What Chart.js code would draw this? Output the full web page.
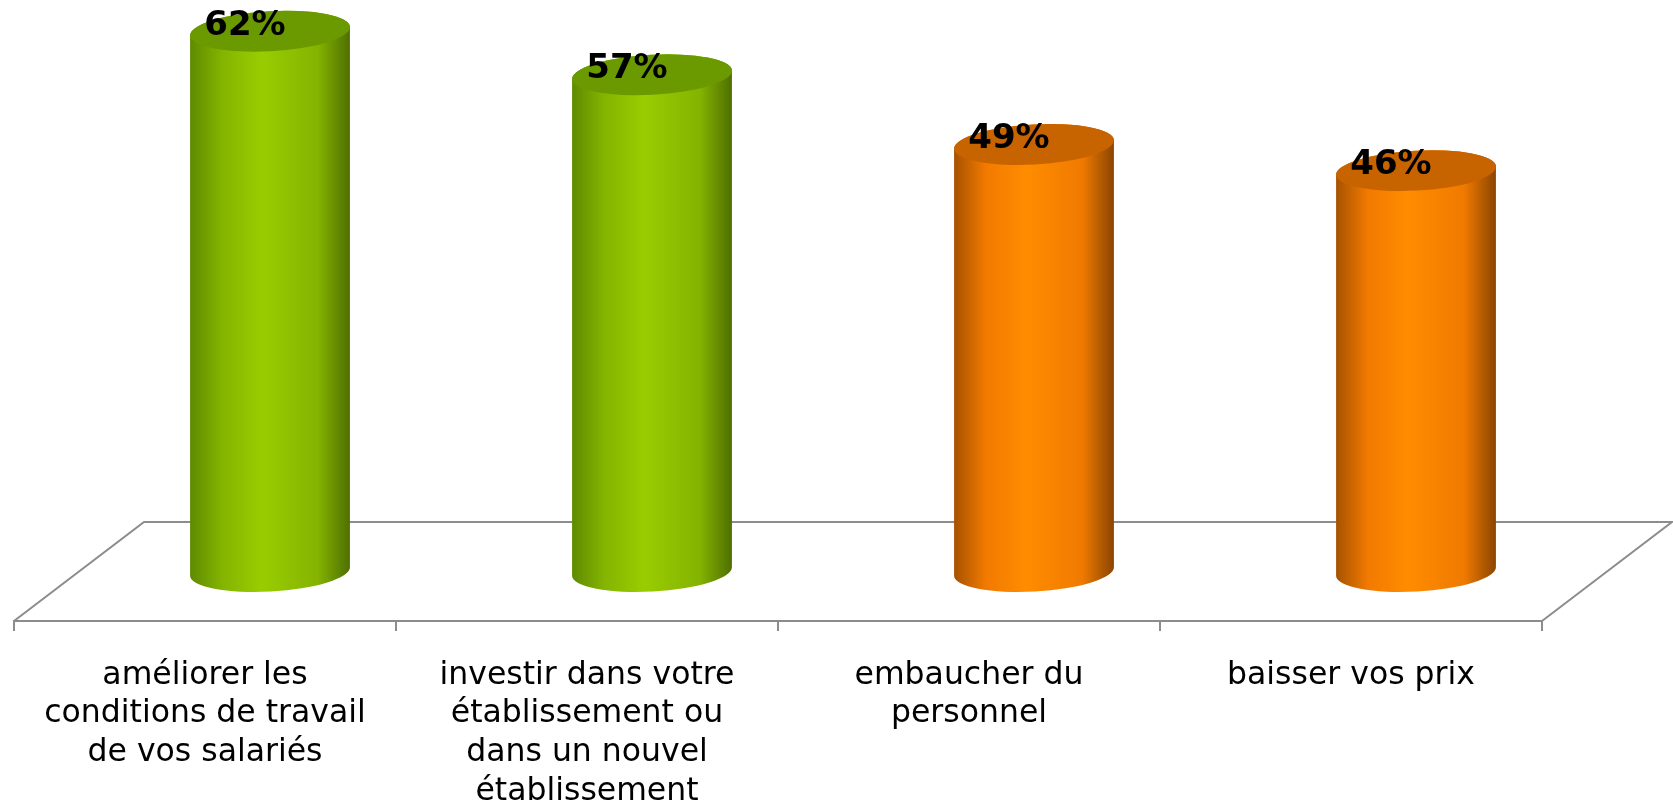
<!DOCTYPE html>
<html>
<head>
<meta charset="utf-8">
<script src="https://cdn.jsdelivr.net/npm/chart.js@4/dist/chart.umd.min.js"></script>
<style>
  html, body { margin: 0; padding: 0; background: #ffffff; }
  #wrap { width: 1673px; height: 802px; position: relative; }
</style>
</head>
<body>
<div id="wrap"><canvas id="c"></canvas></div>
<script>
// ---- data ----
const categories = [
  ["améliorer les", "conditions de travail", "de vos salariés"],
  ["investir dans votre", "établissement ou", "dans un nouvel", "établissement"],
  ["embaucher du", "personnel"],
  ["baisser vos prix"]
];
const values = [62, 57, 49, 46];
const valueLabels = ["62%", "57%", "49%", "46%"];

// ---- styles ----
const palettes = {
  green:  { top: "#6b9a00", edgeL: "#5e8a00", midL: "#84b400", bright: "#9acd00", midR: "#84b300", edgeR: "#4e6f00" },
  orange: { top: "#c86400", edgeL: "#a65200", midL: "#f27a00", bright: "#ff8c00", midR: "#f07a00", edgeR: "#8a4500" }
};
const barStyle = ["green", "green", "orange", "orange"];
const DEPTH_X = 130, DEPTH_Y = 99;
const FONT = "'DejaVu Sans', Verdana, sans-serif";

const floorPlugin = {
  id: "floor",
  beforeDatasetsDraw(chart) {
    const { ctx, chartArea } = chart;
    const L = chartArea.left, R = chartArea.right, B = chartArea.bottom;
    ctx.save();
    ctx.strokeStyle = "#8c8c8c";
    ctx.lineWidth = 2;
    ctx.beginPath();
    ctx.moveTo(L, B);
    ctx.lineTo(L + DEPTH_X, B - DEPTH_Y);
    ctx.lineTo(R + DEPTH_X, B - DEPTH_Y);
    ctx.lineTo(R, B);
    ctx.stroke();
    ctx.restore();
  }
};

const cylinderPlugin = {
  id: "cylinders",
  afterDatasetsDraw(chart) {
    const { ctx } = chart;
    const meta = chart.getDatasetMeta(0);
    const rot = -0.055;
    meta.data.forEach((el, i) => {
      const p = palettes[barStyle[i]];
      const cx = el.x + DEPTH_X / 2;
      const topY = el.y - DEPTH_Y / 2;
      const baseY = el.base - DEPTH_Y / 2;
      const rx = el.width / 2;
      const ry = 20;
      ctx.save();
      // side
      const g = ctx.createLinearGradient(cx - rx, 0, cx + rx, 0);
      g.addColorStop(0, p.edgeL);
      g.addColorStop(0.2, p.midL);
      g.addColorStop(0.45, p.bright);
      g.addColorStop(0.8, p.midR);
      g.addColorStop(1, p.edgeR);
      ctx.fillStyle = g;
      ctx.beginPath();
      ctx.ellipse(cx, topY, rx, ry, rot, Math.PI, 0, false);
      ctx.ellipse(cx, baseY, rx, ry, rot, 0, Math.PI, false);
      ctx.closePath();
      ctx.fill();
      // top
      ctx.fillStyle = p.top;
      ctx.beginPath();
      ctx.ellipse(cx, topY, rx, ry, rot, 0, Math.PI * 2);
      ctx.fill();
      // label
      ctx.fillStyle = "#000000";
      ctx.font = "bold 34px " + FONT;
      ctx.textAlign = "center";
      ctx.textBaseline = "alphabetic";
      ctx.fillText(valueLabels[i], cx - 25, topY + 3.5);
      ctx.restore();
    });
  }
};

new Chart(document.getElementById("c"), {
  type: "bar",
  data: {
    labels: categories,
    datasets: [{
      data: values,
      backgroundColor: "rgba(0,0,0,0)",
      borderWidth: 0,
      categoryPercentage: 1,
      barPercentage: 0.419
    }]
  },
  options: {
    responsive: true,
    maintainAspectRatio: false,
    animation: false,
    events: [],
    layout: { padding: { left: 14, right: 131, top: 11, bottom: 0 } },
    plugins: { legend: { display: false }, tooltip: { enabled: false } },
    scales: {
      x: {
        afterFit(scale) { scale.height = 181; },
        grid: { drawOnChartArea: false, drawTicks: true, tickLength: 10, color: "#8c8c8c", lineWidth: 2, offset: true },
        border: { display: true, color: "#8c8c8c", width: 2 },
        ticks: {
          color: "#000000",
          font: { family: FONT, size: 31.5, lineHeight: "38.8px" },
          padding: 25,
          maxRotation: 0,
          autoSkip: false
        }
      },
      y: { display: false, min: 0, max: 70 }
    }
  },
  plugins: [floorPlugin, cylinderPlugin]
});
</script>
</body>
</html>
